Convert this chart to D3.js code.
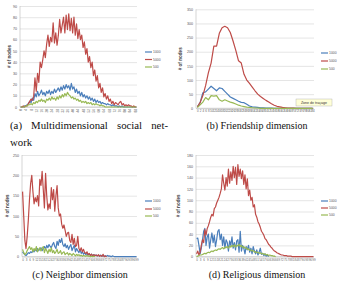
<!DOCTYPE html>
<html><head><meta charset="utf-8">
<script src="https://cdn.jsdelivr.net/npm/d3@7"></script>
<style>html,body{margin:0;padding:0;background:#fff;}svg{display:block;}</style>
</head><body>
<svg id="c" width="338" height="283"></svg>
<script>
// ---------- data ----------
const seriesNames = ["1000", "5000", "500"];
const seriesColors = ["#4a7ebb", "#be4b48", "#98b954"];

// (a) Multidimensional social network
const catsA = [0,1,2,3,4,5,6,7,8,9,10,11,12,13,14,15,16,17,18,19,20,21,22,23,24,25,26,27,28,29,30,31,32,33,34,35,36,37,38,39,40,41,42,43,44,45,46,47,48,49,50,51,52,53,54,55,56,57,58,59,60,61,62,63,64,65,66,67,68,69,70,71,72,73,74,75,76,77,78,79,80,81,82,83,84,85,86,87,88,89];
const xLabelsA = [0,4,8,12,16,20,24,28,32,36,40,44,48,52,56,60,64,68,72,76,80,84,88];
const yTicksA = [0,10,20,30,40,50,60,70,80,90];
const a1000 = [0,0,0,1,1,2,3,5,4,8,6,12,9,14,10,12,15,11,13,10,14,12,15,11,14,12,16,13,15,17,14,18,15,19,16,20,17,19,15,21,16,18,13,16,12,14,10,13,9,11,8,10,7,9,6,8,5,7,4,6,4,5,3,4,3,3,2,3,2,2,1,2,1,1,1,0,1,0,1,0,0,0,0,0,0,0,0,0,0,0];
const a5000 = [0,0,1,0,1,1,3,5,7,6,9,26,14,30,22,40,35,42,50,44,56,64,54,62,58,75,57,66,55,64,78,66,73,80,66,82,69,83,68,79,66,80,64,74,61,69,60,64,53,58,47,52,40,45,35,40,28,33,23,28,17,21,13,17,9,12,7,10,5,7,3,5,2,4,3,2,4,5,2,3,1,2,1,2,1,1,0,1,0,0];
const a500 = [0,0,0,0,1,1,2,2,3,2,4,3,5,4,6,5,7,5,6,4,7,6,8,6,9,7,8,6,9,7,10,8,11,9,12,10,13,11,10,8,9,7,8,6,7,5,6,4,5,4,5,3,4,3,4,2,3,2,3,2,2,1,2,1,1,0,0,0,0,0,0,0,0,0,0,0,0,0,0,0,0,0,0,0,0,0,0,0,0,0];

// (b) Friendship dimension
const catsB = [0,2,4,6,8,10,12,14,16,18,20,22,24,26,28,30,32,34,36,38,40,42,44,46,48,50,52,54,56,58,60,62,64,66,68,70,72,74,76,78,80,82,84];
const xLabelsB = catsB;
const yTicksB = [0,50,100,150,200,250,300,350];
const b1000 = [5,20,55,58,68,78,70,62,72,70,60,50,40,35,30,25,21,20,14,8,5,4,3,2,2,1,1,1,0,0,0,0,0,0,0,0,0,0,0,0,0,0,0];
const b5000 = [5,20,45,80,125,160,220,220,265,285,290,285,268,238,205,168,160,120,100,88,75,62,50,42,35,28,22,16,11,7,5,3,2,1,1,1,0,0,0,0,0,0,0];
const b500 = [3,12,22,38,30,45,43,45,30,25,30,26,22,19,15,11,8,6,4,3,2,1,1,0,0,0,0,0,0,0,0,0,0,0,0,0,0,0,0,0,0,0,0];

// (c) Neighbor dimension
const catsC = [0,1,2,3,4,5,6,7,8,9,10,11,12,13,14,15,16,17,18,19,20,21,22,23,24,25,26,27,28,29,30,31,32,33,34,35,36,37,38,39,40,41,42,43,44,45,46,47,48,49,50,51,52,53,54,55,56,57,58,59,60,61,62,63,64,65,66,67,68,69,70,71,72,73,74,75,76,77,78,79,80,81,82,83,84,85,86,87,88,89,90,91,92,93,94,95,96,97,98,99];
const xLabelsC = [0,3,6,9,12,15,18,21,24,27,30,33,36,39,42,45,48,51,54,57,60,63,66,69,72,75,78,81,84,87,90,93,96,99];
const yTicksC = [0,50,100,150,200,250];
const c1000 = [12,8,5,3,6,10,8,12,10,15,12,18,14,20,15,18,22,15,20,25,18,28,22,30,25,22,30,35,25,20,38,28,42,35,45,30,25,32,22,28,18,25,30,15,22,28,12,20,15,10,18,8,12,6,10,5,8,4,7,3,6,2,5,3,4,2,3,2,4,1,3,1,2,1,3,1,2,0,2,1,0,0,0,0,0,0,0,0,0,0,0,0,0,0,0,0,0,0,0,0];
const c5000 = [160,100,40,20,50,90,140,180,200,160,130,145,135,150,125,190,175,210,165,120,205,150,115,130,118,170,140,165,112,150,175,120,100,105,80,70,78,65,50,58,60,40,35,55,30,45,25,28,50,20,15,22,12,18,10,8,12,5,8,3,6,2,5,3,4,2,5,1,3,1,6,0,2,0];
const c500 = [18,10,5,8,15,20,25,18,22,12,20,15,25,12,18,22,14,20,25,10,20,15,8,18,12,22,10,15,8,12,18,8,10,15,6,10,12,5,8,10,4,8,6,3,8,5,2,6,3,5,2,4,1,3,2,1,3,1,2,0,1,0,1,0];

// (d) Religious dimension
const catsD = catsC;
const xLabelsD = xLabelsC;
const yTicksD = [0,20,40,60,80,100,120,140,160,180];
const d1000 = [32,33,20,5,15,30,45,50,20,35,40,15,30,42,25,38,18,30,45,48,30,40,20,35,15,30,25,10,28,20,35,15,25,12,28,30,8,45,10,20,15,5,18,12,20,8,15,5,18,10,5,12,3,8,15,4,6,2,5,1,3,0];
const d5000 = [5,10,3,8,20,30,25,48,38,50,55,62,70,75,72,85,88,95,100,105,112,120,145,130,118,140,125,155,130,150,135,160,140,158,128,163,142,155,138,152,128,145,120,138,108,118,100,105,88,92,75,70,62,58,52,45,42,38,32,30,26,22,20,17,15,12,10,9,7,6,5,4,3,3,2,2,2,1,1,1,1,0,0,0,0,0,0,0,0,0,0,0,0,0,0,0,0,0,0,0];
const d500 = [0,1,2,3,3,4,5,6,5,7,8,7,9,10,9,11,12,11,13,14,13,15,16,14,17,16,18,15,19,17,20,18,21,17,20,19,22,18,20,16,18,15,16,13,14,11,12,10,11,8,9,7,8,6,7,5,6,4,5,3,4,2,3,2,2,1,1,0];

// ---------- drawing ----------
const svg = d3.select("#c");
svg.append("rect").attr("width", 338).attr("height", 283).attr("fill", "#fff");

const FONT = "Liberation Sans, Arial, sans-serif";

function panel(cfg) {
  const g = svg.append("g");
  const x = d3.scalePoint().domain(cfg.cats).range([cfg.l, cfg.r]).padding(0.5);
  const y = d3.scaleLinear().domain([0, cfg.ymax]).range([cfg.b, cfg.t]);

  const ya = g.append("g").attr("transform", `translate(${cfg.l},0)`)
    .call(d3.axisLeft(y).tickValues(cfg.yticks).tickSize(-(cfg.r - cfg.l)).tickPadding(3));
  ya.select(".domain").remove();
  ya.selectAll(".tick line").attr("stroke", "#d4d4d4").attr("stroke-width", 0.6);
  ya.selectAll(".tick text").attr("font-family", FONT).attr("font-size", 3.6).attr("fill", "#555");

  g.append("line").attr("x1", cfg.l).attr("x2", cfg.l).attr("y1", cfg.t).attr("y2", cfg.b)
    .attr("stroke", "#bbb").attr("stroke-width", 0.6);
  g.append("line").attr("x1", cfg.l).attr("x2", cfg.r).attr("y1", cfg.b).attr("y2", cfg.b)
    .attr("stroke", "#bbb").attr("stroke-width", 0.7);

  const xa = g.append("g").attr("transform", `translate(0,${cfg.b})`)
    .call(d3.axisBottom(x).tickValues(cfg.xlabels).tickSize(0).tickPadding(2));
  xa.select(".domain").remove();
  const xt = xa.selectAll(".tick text").attr("font-family", FONT).attr("font-size", cfg.xfs || 3.2).attr("fill", "#666");
  if (cfg.rotate) {
    xt.attr("transform", "rotate(-90)").attr("text-anchor", "end").attr("dy", "0.32em").attr("y", 0).attr("x", -2);
  }

  g.append("text").attr("transform", `translate(${cfg.tx},${(cfg.t + cfg.b) / 2}) rotate(-90)`)
    .attr("text-anchor", "middle").attr("font-family", FONT).attr("font-size", 4.6)
    .attr("font-weight", "bold").attr("fill", "#333").text("# of nodes");

  const line = d3.line().x((d, i) => x(cfg.cats[i])).y(d => y(d));
  cfg.series.forEach((s, k) => {
    g.append("path").datum(s).attr("d", line).attr("fill", "none")
      .attr("stroke", seriesColors[k]).attr("stroke-width", 1.2).attr("stroke-linejoin", "round");
  });

  seriesNames.forEach((n, k) => {
    const ly = cfg.ly[k];
    g.append("line").attr("x1", cfg.lx).attr("x2", cfg.lx + 7).attr("y1", ly).attr("y2", ly)
      .attr("stroke", seriesColors[k]).attr("stroke-width", 1.2);
    g.append("text").attr("x", cfg.lx + 8).attr("y", ly).attr("dy", "0.35em")
      .attr("font-family", FONT).attr("font-size", 3.4).attr("fill", "#555").text(n);
  });
  return g;
}

panel({cats: catsA, xlabels: xLabelsA, yticks: yTicksA, ymax: 90, l: 20, r: 137, t: 6, b: 107,
  tx: 11, series: [a1000, a5000, a500], lx: 145, ly: [52, 59.5, 67], rotate: true});
const pb = panel({cats: catsB, xlabels: xLabelsB, yticks: yTicksB, ymax: 350, l: 196, r: 314, t: 9.3, b: 108.3,
  tx: 182, series: [b1000, b5000, b500], lx: 321, ly: [53, 61, 69], xfs: 3});
panel({cats: catsC, xlabels: xLabelsC, yticks: yTicksC, ymax: 250, l: 22, r: 137, t: 155, b: 256.7,
  tx: 9, series: [c1000, c5000, c500], lx: 145, ly: [201, 209, 216], xfs: 3});
panel({cats: catsD, xlabels: xLabelsD, yticks: yTicksD, ymax: 180, l: 196, r: 314, t: 155, b: 256.7,
  tx: 180, series: [d1000, d5000, d500], lx: 321, ly: [201, 208, 215], xfs: 3});

pb.append("rect").attr("x", 296).attr("y", 99).attr("width", 36).attr("height", 7)
  .attr("fill", "#ffffd8").attr("stroke", "#aaa").attr("stroke-width", 0.4);
pb.append("text").attr("x", 314).attr("y", 102.6).attr("dy", "0.35em").attr("text-anchor", "middle")
  .attr("font-family", FONT).attr("font-size", 3.6).attr("fill", "#333").text("Zone de traçage");

// captions
const CF = "Liberation Serif, Times New Roman, serif";
const capA = svg.append("text").attr("x", 10).attr("y", 129).attr("font-family", CF).attr("font-size", 10.8)
  .attr("fill", "#111").text("(a) Multidimensional social net-");
const natural = capA.node().getComputedTextLength();
capA.style("word-spacing", Math.max(0, (158 - natural) / 3) + "px");
svg.append("text").attr("x", 10).attr("y", 146).attr("font-family", CF).attr("font-size", 10.8)
  .attr("fill", "#111").text("work");
svg.append("text").attr("x", 257).attr("y", 129).attr("text-anchor", "middle").attr("font-family", CF).attr("font-size", 10)
  .attr("fill", "#111").text("(b) Friendship dimension");
svg.append("text").attr("x", 80).attr("y", 278).attr("text-anchor", "middle").attr("font-family", CF).attr("font-size", 10)
  .attr("fill", "#111").text("(c) Neighbor dimension");
svg.append("text").attr("x", 257).attr("y", 278).attr("text-anchor", "middle").attr("font-family", CF).attr("font-size", 10)
  .attr("fill", "#111").text("(d) Religious dimension");
</script>
</body></html>
